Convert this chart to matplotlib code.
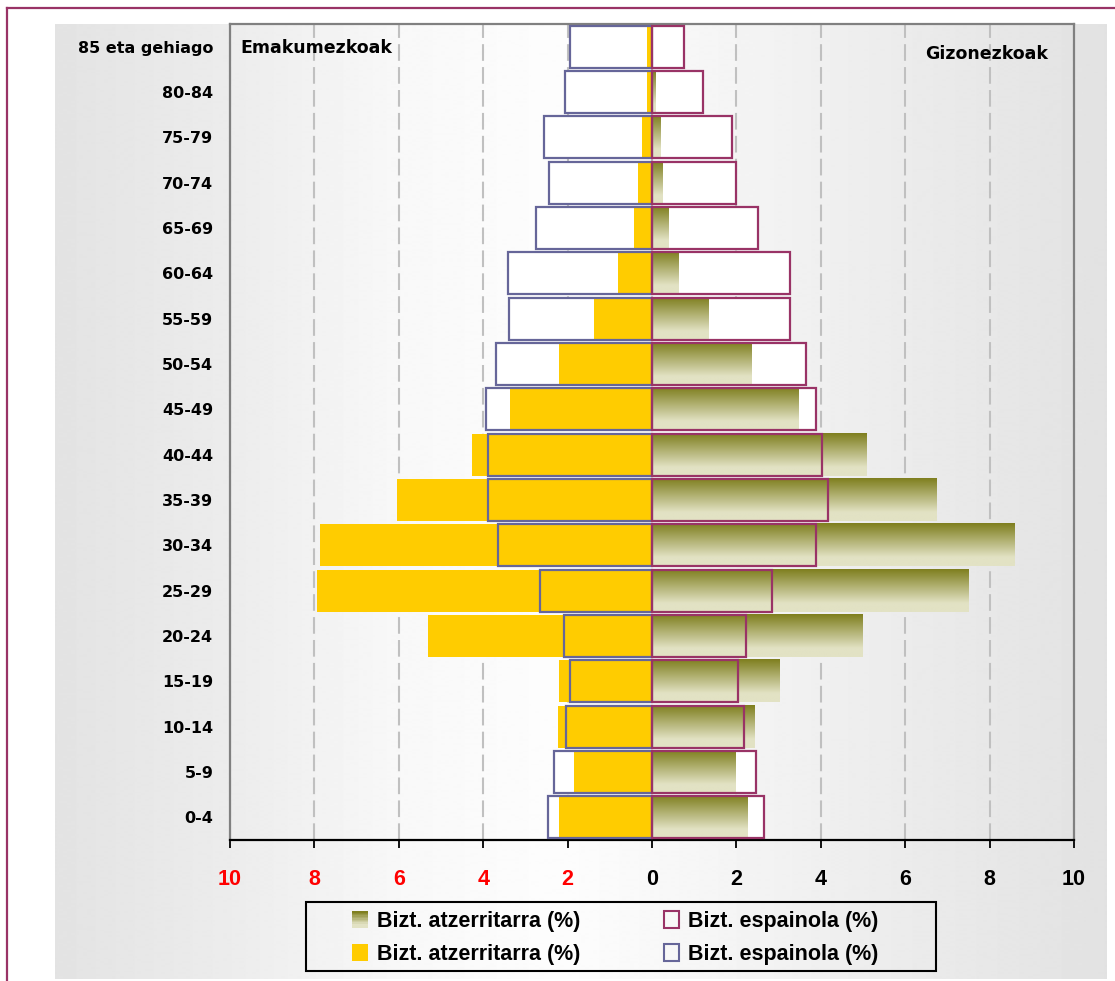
import numpy as np
import matplotlib
matplotlib.use("Agg")
import matplotlib.pyplot as plt
from matplotlib.patches import Patch, Rectangle
from matplotlib.legend_handler import HandlerBase
from matplotlib.colors import to_rgb

plt.rcParams['font.family'] = ['Liberation Sans', 'DejaVu Sans']

# age groups, bottom to top
groups = ['0-4', '5-9', '10-14', '15-19', '20-24', '25-29', '30-34', '35-39',
          '40-44', '45-49', '50-54', '55-59', '60-64', '65-69', '70-74',
          '75-79', '80-84', '85 eta gehiago']

# women (left side)
women_foreign = [2.20, 1.85, 2.23, 2.20, 5.31, 7.94, 7.87, 6.04, 4.27, 3.37,
                 2.20, 1.37, 0.81, 0.43, 0.33, 0.23, 0.13, 0.13]
women_spanish = [2.47, 2.33, 2.04, 1.95, 2.09, 2.65, 3.65, 3.89, 3.89, 3.93,
                 3.70, 3.38, 3.42, 2.76, 2.43, 2.57, 2.05, 1.95]
# men (right side)
men_foreign = [2.27, 1.97, 2.44, 3.03, 5.00, 7.51, 8.58, 6.75, 5.09, 3.48,
               2.35, 1.33, 0.62, 0.38, 0.24, 0.20, 0.09, 0.02]
men_spanish = [2.65, 2.46, 2.18, 2.04, 2.23, 2.84, 3.89, 4.17, 4.03, 3.89,
               3.65, 3.27, 3.27, 2.51, 2.00, 1.90, 1.20, 0.76]

xticks = [-10, -8, -6, -4, -2, 0, 2, 4, 6, 8, 10]

YELLOW = '#FFCC00'
PURPLE = '#666699'
MAROON = '#993366'
OLIVE_TOP = to_rgb('#7f7f1f')
OLIVE_BOT = to_rgb('#e2e2c4')


def olive_gradient(n=60):
    t = np.clip(np.linspace(0, 1, n) / 0.8, 0, 1)[:, None]
    top = np.array(OLIVE_TOP)[None, :]
    bot = np.array(OLIVE_BOT)[None, :]
    return (top + (bot - top) * t)[:, None, :]


class GradientHandler(HandlerBase):
    def create_artists(self, legend, orig_handle, xdescent, ydescent,
                       width, height, fontsize, trans):
        grad = olive_gradient(12)[:, 0, :]
        n = len(grad)
        arts = []
        for i, c in enumerate(grad):
            r = Rectangle((-xdescent, -ydescent + height * (n - 1 - i) / n),
                          width, height / n, facecolor=c, edgecolor='none',
                          transform=trans)
            arts.append(r)
        return arts


fig = plt.figure(figsize=(11.15, 9.81), dpi=100)

# background of the chart area
bg = fig.add_axes([0, 0, 1, 1], zorder=-10)
xs = np.arange(55, 1108)
lev = np.interp(xs, [55, 230, 400, 560, 700, 850, 1000, 1107],
                [0xe3, 0xec, 0xf8, 0xfd, 0xf6, 0xee, 0xe7, 0xe2]) / 255.0
bg.imshow(np.tile(lev, (2, 1)), cmap='gray', vmin=0, vmax=1,
          extent=[55, 1107, 979, 24], aspect='auto', interpolation='bilinear')
bg.plot([7, 7], [981, 8], color=MAROON, lw=1.6)
bg.plot([7, 1115], [8, 8], color=MAROON, lw=1.6)
bg.set_xlim(0, 1115)
bg.set_ylim(981, 0)
bg.axis('off')

ax = fig.add_axes([230 / 1115, 1 - 840 / 981, 844 / 1115, 816 / 981])
ax.patch.set_alpha(0)

y = np.arange(len(groups))
h = 0.93
wf = np.array(women_foreign)
ws = np.array(women_spanish)
mf = np.array(men_foreign)
ms = np.array(men_spanish)

for gx in xticks:
    ax.axvline(gx, color='#c0c0c0', ls=(0, (8, 3)), lw=1.5, zorder=1)

ax.barh(y, -ws, h, color='white', zorder=2)
ax.barh(y, ms, h, color='white', zorder=2)
ax.barh(y, -wf, h, color=YELLOW, zorder=3)
grad = olive_gradient()
for yi, v in zip(y, mf):
    ax.imshow(grad, extent=[0, v, yi - h / 2, yi + h / 2], aspect='auto',
              interpolation='bilinear', zorder=3)
ax.barh(y, -ws, h, fill=False, edgecolor=PURPLE, lw=1.6, zorder=4)
ax.barh(y, ms, h, fill=False, edgecolor=MAROON, lw=1.6, zorder=4)

ax.set_xlim(-10, 10)
ax.set_ylim(-0.5, len(groups) - 0.5)
ax.set_xticks(xticks)
ax.set_xticklabels([str(abs(v)) for v in xticks], fontsize=15.5, fontweight='bold')
for lab, v in zip(ax.get_xticklabels(), xticks):
    lab.set_color('red' if v < 0 else 'black')
ax.set_yticks(y)
ax.set_yticklabels(groups, fontsize=11.5, fontweight='bold',
                   family=['DejaVu Sans'])
ax.tick_params(axis='x', direction='out', length=6, width=1.3, pad=15)
ax.tick_params(axis='y', length=0, pad=12)

for s in ['top', 'left', 'right']:
    ax.spines[s].set_color('#808080')
    ax.spines[s].set_linewidth(1.6)
ax.spines['bottom'].set_color('black')
ax.spines['bottom'].set_linewidth(1.6)

fig.text(240 / 1115, 1 - 48 / 981, 'Emakumezkoak', ha='left', va='center',
         fontsize=12.5, fontweight='bold', family=['DejaVu Sans'])
fig.text(1048 / 1115, 1 - 54 / 981, 'Gizonezkoak', ha='right', va='center',
         fontsize=12.5, fontweight='bold', family=['DejaVu Sans'])

h_mf = Patch(facecolor=OLIVE_TOP)
h_wf = Patch(facecolor=YELLOW, edgecolor='none')
h_ms = Patch(facecolor='none', edgecolor=MAROON, lw=1.5)
h_ws = Patch(facecolor='none', edgecolor=PURPLE, lw=1.5)
labels = ['Bizt. atzerritarra (%)', 'Bizt. atzerritarra (%)',
          'Bizt. espainola (%)', 'Bizt. espainola (%)']
fig.legend([h_mf, h_wf, h_ms, h_ws], labels, ncol=2, loc='upper left',
           bbox_to_anchor=(352 / 1115, 1 - 911 / 981), frameon=False,
           borderpad=0, borderaxespad=0,
           prop={'weight': 'bold', 'size': 15.5},
           handlelength=0.72, handleheight=0.8, handletextpad=0.42,
           columnspacing=3.9, labelspacing=0.55,
           handler_map={h_mf: GradientHandler()})
fig.add_artist(Rectangle((306 / 1115, 1 - 971 / 981), 630 / 1115, 69 / 981,
                         transform=fig.transFigure, fill=False,
                         edgecolor='black', lw=1.5))

fig.savefig('out.png', dpi=100)
